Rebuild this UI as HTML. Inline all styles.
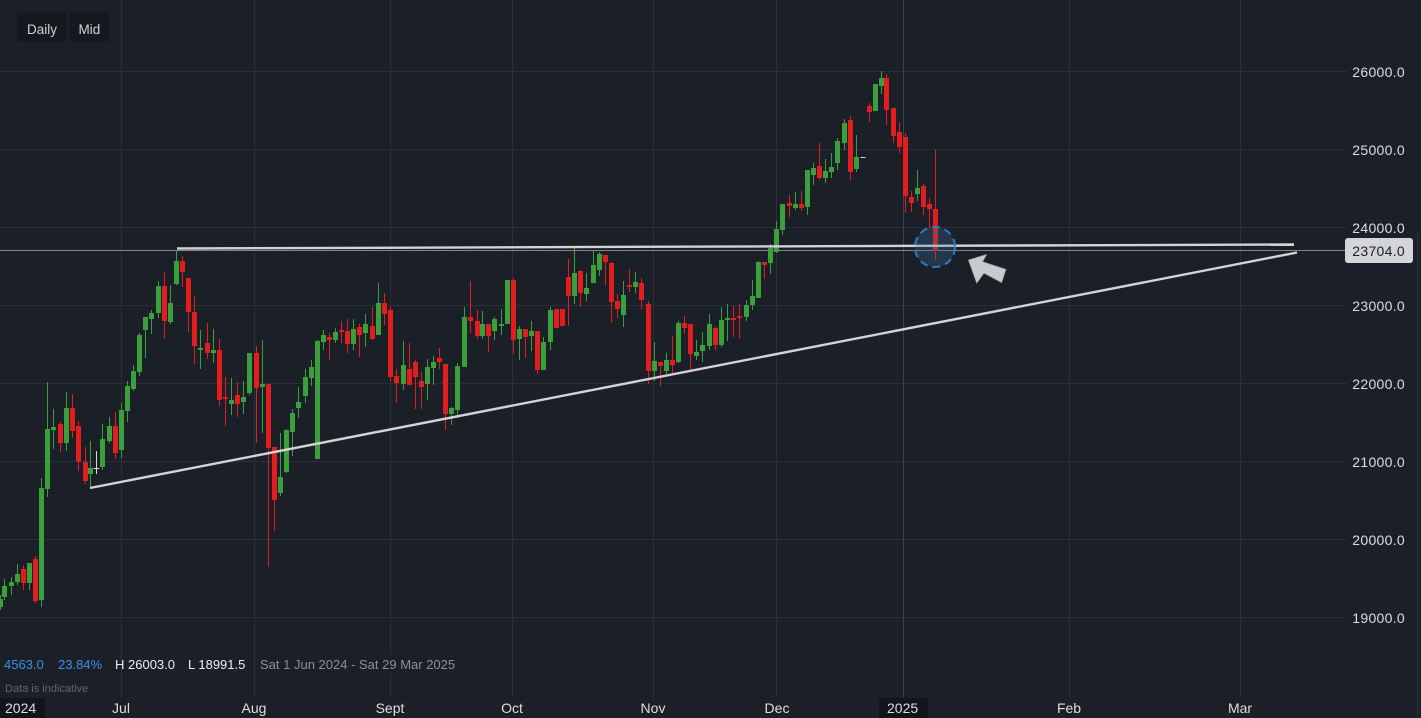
<!DOCTYPE html>
<html><head><meta charset="utf-8"><style>
html,body{margin:0;padding:0;background:#1b2028;}
svg{display:block;}
text{font-family:"Liberation Sans",sans-serif;}
</style></head><body>
<svg width="1421" height="718" viewBox="0 0 1421 718" xmlns="http://www.w3.org/2000/svg">
<rect x="0" y="0" width="1421" height="718" fill="#1b2028"/>
<!-- grid -->
<g stroke="#2a2f37" stroke-width="1">
<path d="M0 71.5H1347M0 149.5H1347M0 227.5H1347M0 305.5H1347M0 383.5H1347M0 461.5H1347M0 539.5H1347M0 617.5H1347"/>
<path d="M121.5 0V697M254.5 0V697M390.5 0V697M512.5 0V697M653.5 0V697M776.5 0V697M1069.5 0V697M1240.5 0V697M1417.5 232V718"/>
</g>
<path d="M903.5 0V697" stroke="#3d424a" stroke-width="1"/>
<!-- price line -->
<path d="M0 250.5H1345" stroke="#80868e" stroke-width="1"/>
<!-- candles -->
<g transform="translate(0.5,0)" fill="none">
<path stroke="#3b9f3b" stroke-width="1" d="M0 595V610M4 579V600M11 577V595M17 564V585M29 563V590M41 478V607M47 382V497M53 409V449M66 392V451M90 441V488M102 424V470M109 417V443M121 403V458M127 381V422M133 365V391M139 333V376M145 317V358M151 310V334M158 281V318M170 285V324M176 250V285M200 330V369M213 329V363M231 378V415M243 381V414M249 353V395M262 340V433M280 433V496M286 429V473M292 409V456M298 387V418M305 369V403M311 360V386M317 340V459M323 330V350M335 328V343M353 319V350M365 314V347M378 283V335M403 341V390M427 359V400M433 356V385M451 407V425M457 363V418M464 307V367M482 311V339M494 317V340M501 309V335M507 280V324M519 326V360M531 321V351M543 337V370M550 307V350M574 248V304M586 273V301M593 251V283M599 252V276M623 281V327M635 272V293M654 342V381M666 353V374M678 321V363M696 340V360M702 332V362M709 314V350M721 307V347M727 304V341M746 300V321M752 280V310M758 261V298M770 244V274M776 221V253M782 204V235M795 192V210M807 170V215M813 163V185M825 159V183M831 153V178M837 138V170M844 119V150M856 135V172M875 84V111M881 71V94M917 170V201"/>
<path stroke="#3b9f3b" stroke-width="5" d="M0 599V607M4 586V597M11 582V586M17 574V582M29 563V583M41 488V600M47 429V489M53 427V430M66 408V443M90 468V474M102 439V467M109 426V441M121 410V450M127 386V411M133 371V389M139 335V372M145 317V330M151 313V319M158 286V313M170 303V322M176 261V284M200 348V350M213 350V353M231 400V404M243 397V402M249 353V393M262 384V387M280 477V493M286 430V472M292 413V432M298 402V408M305 377V396M311 367V378M317 341V459M323 335V342M335 332V340M353 329V344M365 324V333M378 303V335M403 365V384M427 367V384M433 362V368M451 408V414M457 366V410M464 317V367M482 324V336M494 319V331M501 324V326M507 280V324M519 329V339M531 331V336M543 342V370M550 310V342M574 273V296M586 288V294M593 265V283M599 254V270M623 295V315M635 282V287M654 361V371M666 360V371M678 323V362M696 352V356M702 345V351M709 324V346M721 320V345M727 318V320M746 305V317M752 296V305M758 262V298M770 248V263M776 229V252M782 204V230M795 204V208M807 170V207M813 168V175M825 171V178M831 167V172M837 141V163M844 123V143M856 157V169M875 84V111M881 78V86M917 188V194"/>
<path stroke="#e11d1d" stroke-width="1" d="M23 565V590M35 556V603M60 422V452M72 394V438M78 421V471M85 447V484M115 412V459M164 272V339M182 256V287M188 278V332M194 296V364M207 323V359M219 339V406M225 377V426M237 382V417M256 346V443M268 384V567M274 447V531M329 333V360M341 321V343M347 319V353M359 324V357M372 307V340M384 293V325M390 307V382M396 369V403M409 343V385M415 360V409M421 372V409M439 348V369M445 364V430M470 281V333M477 310V339M488 324V352M513 278V354M525 329V358M537 331V374M556 309V328M562 309V326M568 259V326M580 270V307M605 255V285M611 262V323M617 294V318M629 269V292M641 278V309M648 301V384M660 362V386M672 336V373M684 316V334M690 324V370M715 327V350M733 306V337M739 304V339M764 262V279M789 195V217M801 191V211M819 143V180M850 116V180M869 103V122M886 74V125M893 108V143M899 122V153M905 133V213M911 191V212M923 184V215M929 198V228M935 150V260"/>
<path stroke="#e11d1d" stroke-width="5" d="M23 569V583M35 559V601M60 424V443M72 408V431M78 426V462M85 462V481M115 426V453M164 286V321M182 261V272M188 278V312M194 312V346M207 343V353M219 350V400M225 397V399M237 395V404M256 353V388M268 384V448M274 447V500M329 337V340M341 330V332M347 331V344M359 327V335M372 326V339M384 303V314M390 310V377M396 376V383M409 369V385M415 362V377M421 381V387M439 358V362M445 364V414M470 317V321M477 321V336M488 324V336M513 280V340M525 329V337M537 331V370M556 309V328M562 309V326M568 277V296M580 271V293M605 255V262M611 263V302M617 301V309M629 285V287M641 283V300M648 304V371M660 362V366M672 360V365M684 323V328M690 324V354M715 328V345M733 318V320M739 316V318M764 262V265M789 203V206M801 204V208M819 166V178M850 120V172M869 106V112M886 78V110M893 108V136M899 132V147M905 137V196M911 197V203M923 186V207M929 204V209M935 209V251"/>
<path stroke="#d8d8d8" stroke-width="1" d="M96 451V474M93 468.5H99M860 157.5H865"/>
</g>
<!-- trend lines -->
<line x1="177" y1="248.5" x2="1294" y2="244.5" stroke="#d2d3d5" stroke-width="2.4"/>
<line x1="90" y1="488" x2="1297" y2="252.5" stroke="#d2d3d5" stroke-width="2.4"/>
<!-- circle highlight -->
<circle cx="935" cy="247" r="20" fill="rgba(60,110,170,0.28)" stroke="#2f7bc6" stroke-width="2" stroke-dasharray="8 5"/>
<!-- arrow -->
<polygon points="968.3,260 986.7,254.3 982.7,261.7 1006,269.3 1001.7,282.7 984,273.3 976.7,283.3" fill="#c9cacc" stroke="#8e9094" stroke-width="0.6"/>
<!-- top buttons -->
<rect x="17" y="12" width="49" height="30" rx="3" fill="#15191e"/>
<rect x="69" y="12" width="41" height="30" rx="3" fill="#15191e"/>
<text x="27" y="34" font-size="13.5" fill="#cfd3d9">Daily</text>
<text x="78.5" y="34" font-size="13.5" fill="#cfd3d9">Mid</text>
<!-- y axis labels -->
<g font-size="14" fill="#dcdee2" text-anchor="end" letter-spacing="0.3">
<text x="1405" y="77">26000.0</text>
<text x="1405" y="155">25000.0</text>
<text x="1405" y="233">24000.0</text>
<text x="1405" y="311">23000.0</text>
<text x="1405" y="389">22000.0</text>
<text x="1405" y="467">21000.0</text>
<text x="1405" y="545">20000.0</text>
<text x="1405" y="623">19000.0</text>
</g>
<rect x="1345" y="238" width="68" height="25" rx="3" fill="#d4d5d9"/>
<text x="1405" y="256" font-size="14" fill="#1c2027" text-anchor="end" letter-spacing="0.3">23704.0</text>
<!-- legend -->
<rect x="255" y="655" width="198" height="18" fill="#1b2028"/>
<g font-size="13">
<text x="4" y="669" fill="#3b8fe6">4563.0</text>
<text x="58" y="669" fill="#3b8fe6">23.84%</text>
<text x="115" y="669" fill="#eceef1">H 26003.0</text>
<text x="188" y="669" fill="#eceef1">L 18991.5</text>
<text x="260" y="669" fill="#8b9097">Sat 1 Jun 2024 - Sat 29 Mar 2025</text>
</g>
<text x="5" y="692" font-size="11" fill="#5f656d">Data is indicative</text>
<!-- time axis -->
<rect x="0" y="698" width="45" height="20" fill="#121519"/>
<rect x="879" y="698" width="49" height="20" fill="#121519"/>
<g font-size="14" fill="#dcdee2">
<text x="5" y="713">2024</text>
<text x="887" y="713">2025</text>
</g>
<g font-size="14" fill="#dcdee2" text-anchor="middle">
<text x="121" y="713">Jul</text>
<text x="254" y="713">Aug</text>
<text x="390" y="713">Sept</text>
<text x="512" y="713">Oct</text>
<text x="653" y="713">Nov</text>
<text x="777" y="713">Dec</text>
<text x="1069" y="713">Feb</text>
<text x="1240" y="713">Mar</text>
</g>
</svg>
</body></html>
